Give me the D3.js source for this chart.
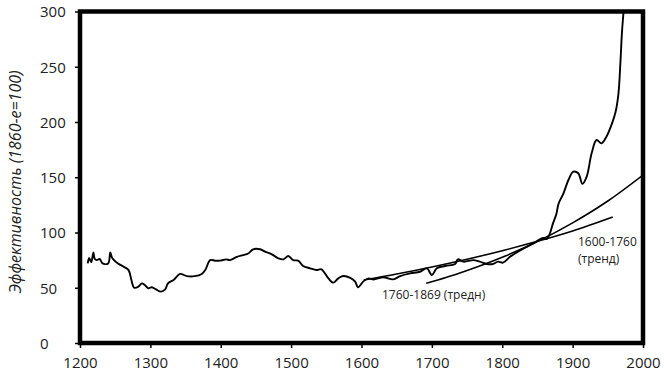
<!DOCTYPE html>
<html><head><meta charset="utf-8">
<script src="https://cdn.jsdelivr.net/npm/d3@7"></script>
<style>body{margin:0;background:#fff}svg{display:block}</style>
</head><body>
<svg id="c" width="664" height="382"></svg>
<script>
const years = [1211,1213,1216,1219,1221,1224,1228,1232,1240,1243,1245,1247,1254,1262,1269,1273,1277,1283,1288,1292,1297,1302,1308,1315,1321,1325,1333,1342,1352,1363,1373,1378,1385,1392,1399,1408,1413,1423,1432,1439,1446,1456,1463,1472,1482,1489,1496,1503,1510,1517,1527,1536,1543,1553,1560,1567,1574,1584,1591,1595,1603,1610,1617,1631,1645,1655,1669,1683,1693,1700,1707,1719,1733,1737,1745,1759,1768,1778,1787,1794,1801,1811,1820,1835,1844,1851,1858,1863,1867,1872,1877,1880,1887,1894,1901,1908,1914,1920,1927,1934,1941,1948,1956,1961,1965,1968,1970,1973];
const values = [72,77,73,82,76,75,76,72,72,82,78,76,72,69,66,57,50,51,54,52.5,49.5,50.5,48.5,46.5,48.5,54,57,62.5,60.5,60.5,62.5,66,75,74.5,74.5,75.7,75,78,79.6,81,84.8,84.8,82.6,80.5,76.6,75.7,78.7,75,74.5,69.7,67.6,66,66.7,58.5,54.6,58.5,60.6,59,55.5,50.4,56,58.5,57.5,59.5,57.6,60.6,63,64.5,67.6,61.5,67.6,69.7,71.5,75.7,73.6,75,73.6,71.5,71.5,73.6,72.7,78,81.7,87,90,93,95,94,98,108,117,126,135.5,147.5,155,153.6,144,150.5,171.7,183.7,180.7,186.7,198.8,209,225,255,280,305];
const trendAYears = [1603,1650,1700,1750,1800,1850,1900,1957];
const trendAValues = [57,62.4,68.8,75.8,83.5,92,101.4,114];
const trendBYears = [1692,1720,1750,1800,1850,1900,1950,2000];
const trendBValues = [54,59.2,65.6,77.6,91.8,108.7,128.5,152];
const xTicks = [1200,1300,1400,1500,1600,1700,1800,1900,2000];
const yTicks = [0,50,100,150,200,250,300];
const yLabel = "Эффективность (1860-е=100)";
const labelA = ["1600-1760","(тренд)"];
const labelB = "1760-1869 (тредн)";

const svg = d3.select("#c");
const L=80,R=643,T=11.5,B=343;
const x = d3.scaleLinear().domain([1200,2000]).range([L,R]);
const y = d3.scaleLinear().domain([0,300]).range([B,T]);
const font = "'Open Sans', sans-serif";

svg.append("defs").append("clipPath").attr("id","clip")
  .append("rect").attr("x",L).attr("y",T).attr("width",R-L).attr("height",B-T);

const xa = svg.append("g").attr("transform",`translate(0,${B})`)
  .call(d3.axisBottom(x).tickValues(xTicks).tickSize(5).tickFormat(d3.format("d")));
xa.select(".domain").remove();
xa.selectAll("line").attr("stroke","#000").attr("stroke-width",1.5);
xa.selectAll("text").attr("font-family",font).attr("font-size",15).attr("fill","#222").attr("dy","1.15em");

const ya = svg.append("g").attr("transform",`translate(${L},0)`)
  .call(d3.axisLeft(y).tickValues(yTicks).tickSize(5));
ya.select(".domain").remove();
ya.selectAll("line").attr("stroke","#000").attr("stroke-width",1.5);
ya.selectAll("text").attr("font-family",font).attr("font-size",15).attr("fill","#222")
  .attr("text-anchor","start").attr("x",40-L).attr("dy","0.35em");

const g = svg.append("g").attr("clip-path","url(#clip)");
const line = d3.line().x(d=>x(d[0])).y(d=>y(d[1])).curve(d3.curveMonotoneX);
g.append("path").datum(trendAYears.map((d,i)=>[d,trendAValues[i]]))
  .attr("d",line).attr("fill","none").attr("stroke","#000").attr("stroke-width",1.6);
g.append("path").datum(trendBYears.map((d,i)=>[d,trendBValues[i]]))
  .attr("d",line).attr("fill","none").attr("stroke","#000").attr("stroke-width",1.6);
g.append("path").datum(years.map((d,i)=>[d,values[i]]))
  .attr("d",d3.line().x(d=>x(d[0])).y(d=>y(d[1])).curve(d3.curveCatmullRom))
  .attr("fill","none").attr("stroke","#000").attr("stroke-width",1.9).attr("stroke-linejoin","round");

svg.append("rect").attr("x",L).attr("y",T).attr("width",R-L).attr("height",B-T)
  .attr("fill","none").attr("stroke","#000").attr("stroke-width",4.5);

svg.append("text").attr("transform",`translate(21,182) rotate(-90)`)
  .attr("text-anchor","middle").attr("font-family",font).attr("font-style","italic")
  .attr("font-size",16).attr("fill","#222").text(yLabel);
svg.append("text").attr("x",578).attr("y",246).attr("font-family",font).attr("font-size",12).attr("fill","#222").text(labelA[0]);
svg.append("text").attr("x",578).attr("y",263).attr("font-family",font).attr("font-size",12).attr("fill","#222").text(labelA[1]);
svg.append("text").attr("x",382).attr("y",299).attr("font-family",font).attr("font-size",12).attr("fill","#222").text(labelB);
</script>
</body></html>
